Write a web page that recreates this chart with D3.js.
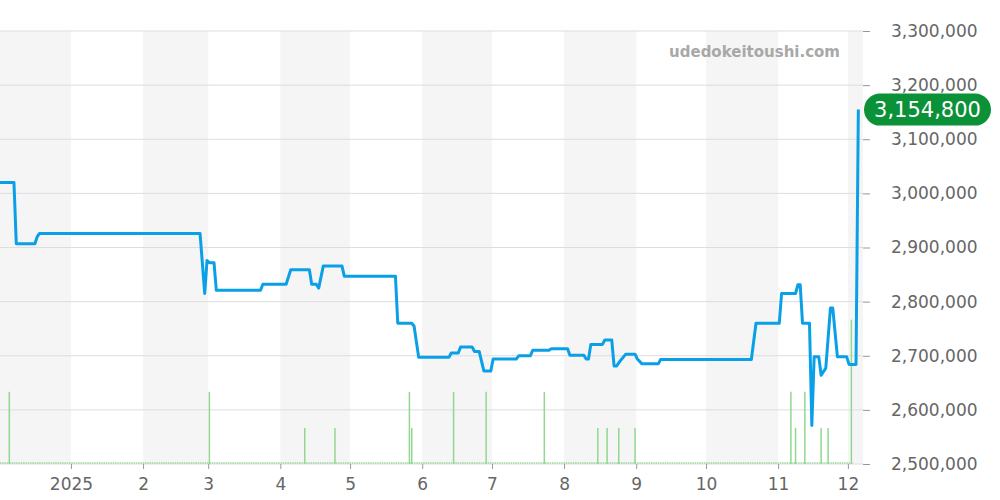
<!DOCTYPE html>
<html>
<head>
<meta charset="utf-8">
<script src="https://cdnjs.cloudflare.com/ajax/libs/d3/7.8.5/d3.min.js"></script>
<style>
  body { margin: 0; background: #fff; }
  svg { display: block; font-family: "DejaVu Sans", sans-serif; }
</style>
</head>
<body>
<div class="root"></div>
<script>
// price history (date, yen)
var priceDates = ["2024-12-01","2024-12-07","2024-12-08","2024-12-16","2024-12-17","2024-12-18",
  "2025-02-25","2025-02-27","2025-02-28","2025-03-01","2025-03-03","2025-03-04","2025-03-23","2025-03-24",
  "2025-04-03","2025-04-05","2025-04-13","2025-04-14","2025-04-16","2025-04-17","2025-04-19","2025-04-27",
  "2025-04-28","2025-05-20","2025-05-21","2025-05-27","2025-05-28","2025-05-30","2025-06-12","2025-06-13",
  "2025-06-16","2025-06-17","2025-06-22","2025-06-23","2025-06-25","2025-06-27","2025-06-30","2025-07-01",
  "2025-07-11","2025-07-12","2025-07-17","2025-07-18","2025-07-25","2025-07-26","2025-08-02","2025-08-03",
  "2025-08-09","2025-08-10","2025-08-11","2025-08-12","2025-08-17","2025-08-18","2025-08-21","2025-08-22",
  "2025-08-23","2025-08-24","2025-08-27","2025-08-31","2025-09-01","2025-09-03","2025-09-10","2025-09-11",
  "2025-10-20","2025-10-22","2025-11-01","2025-11-02","2025-11-08","2025-11-09","2025-11-10","2025-11-11",
  "2025-11-14","2025-11-15","2025-11-16","2025-11-18","2025-11-19","2025-11-21","2025-11-23","2025-11-24",
  "2025-11-26","2025-11-30","2025-12-01","2025-12-04","2025-12-05"];
var priceValues = [3020000,3020000,2907000,2907000,2920000,2926000,
  2926000,2815000,2876000,2872000,2872000,2821000,2821000,2832000,
  2832000,2859000,2859000,2832000,2832000,2825000,2866000,2866000,
  2847000,2847000,2760000,2760000,2755000,2697000,2697000,2705000,
  2705000,2716000,2716000,2708000,2708000,2672000,2672000,2694000,
  2694000,2700000,2700000,2710000,2710000,2713000,2713000,2701000,
  2701000,2694000,2694000,2721000,2721000,2729000,2729000,2681000,
  2681000,2687000,2703000,2703000,2694000,2685000,2685000,2693000,
  2693000,2760000,2760000,2815000,2815000,2831000,2831000,2760000,
  2760000,2571000,2698000,2698000,2664000,2677000,2788000,2788000,
  2698000,2698000,2684000,2684000,3154800];

// number of listings sold per day
var volumeDates = ["2024-12-05","2025-03-01","2025-04-11","2025-04-24","2025-05-26","2025-05-27",
  "2025-06-14","2025-06-28","2025-07-23","2025-08-15","2025-08-19","2025-08-24","2025-08-31",
  "2025-11-06","2025-11-08","2025-11-12","2025-11-19","2025-11-22","2025-12-02"];
var volumeValues = [2,2,1,1,2,1,2,2,2,1,1,1,1,2,1,2,1,1,4];

var yTicks = [2500000,2600000,2700000,2800000,2900000,3000000,3100000,3200000,3300000];
var monthLabels = ["2025","2","3","4","5","6","7","8","9","10","11","12"];
var currentPrice = 3154800;

var width = 1000, height = 500;
var plotLeft = 0, plotRight = 863, plotTop = 31, plotBottom = 464;
var parse = d3.timeParse("%Y-%m-%d");
var parseTime = d3.timeParse("%Y-%m-%d %H:%M");
// daily records are plotted at midday
var parseDay = function (s) { return parseTime(s + " 12:00"); };
var fmt = d3.format(",");

var svg = d3.select(".root").append("svg")
  .attr("width", width)
  .attr("height", height);

var x = d3.scaleTime()
  .domain([parseTime("2024-12-01 12:00"), parseTime("2025-12-07 12:00")])
  .range([plotLeft, plotRight]);
var y = d3.scaleLinear()
  .domain([2500000, 3300000])
  .range([plotBottom, plotTop]);
var yVol = d3.scaleLinear()
  .domain([0, 12])
  .range([plotBottom, plotTop]);

// alternating month bands
var months = d3.timeMonth.range(parse("2024-12-01"), parse("2025-12-07"));
svg.append("g")
  .selectAll("rect")
  .data(months.filter(function (d, i) { return i % 2 == 0; }))
  .enter().append("rect")
  .attr("x", function (d, i) { return i == 0 ? plotLeft : x(d); })
  .attr("y", plotTop)
  .attr("width", function (d, i) {
    return Math.min(x(d3.timeMonth.offset(d, 1)), plotRight) - (i == 0 ? plotLeft : x(d));
  })
  .attr("height", plotBottom - plotTop)
  .attr("fill", "#f5f5f5");

// horizontal grid
svg.append("g")
  .selectAll("line")
  .data(yTicks)
  .enter().append("line")
  .attr("x1", plotLeft)
  .attr("x2", plotRight)
  .attr("y1", function (d) { return y(d); })
  .attr("y2", function (d) { return y(d); })
  .attr("stroke", "#dddddd")
  .attr("stroke-width", 1);

// watermark
svg.append("text")
  .attr("x", 840)
  .attr("y", 57)
  .attr("text-anchor", "end")
  .attr("font-size", 15)
  .attr("font-weight", "bold")
  .attr("fill", "#a8a8a8")
  .text("udedokeitoushi.com");

// volume baseline + bars
svg.append("line")
  .attr("x1", plotLeft)
  .attr("x2", plotRight - 10)
  .attr("y1", plotBottom - 1)
  .attr("y2", plotBottom - 1)
  .attr("stroke", "#9bd99b")
  .attr("stroke-width", 1.5)
  .attr("stroke-dasharray", "1.5,0.8");

svg.append("g")
  .selectAll("line")
  .data(volumeDates.map(function (d, i) { return { date: parseDay(d), v: volumeValues[i] }; }))
  .enter().append("line")
  .attr("x1", function (d) { return x(d.date); })
  .attr("x2", function (d) { return x(d.date); })
  .attr("y1", plotBottom)
  .attr("y2", function (d) { return yVol(d.v); })
  .attr("stroke", "#90d890")
  .attr("stroke-width", 1.5);

// price line
var priceData = priceDates.map(function (d, i) { return { date: parseDay(d), p: priceValues[i] }; });
svg.append("path")
  .datum(priceData)
  .attr("fill", "none")
  .attr("stroke", "#0aa0e8")
  .attr("stroke-width", 3)
  .attr("stroke-linejoin", "round")
  .attr("d", d3.line()
    .x(function (d) { return x(d.date); })
    .y(function (d) { return y(d.p); }));

// right axis
var yAxis = svg.append("g")
  .attr("transform", "translate(" + plotRight + ",0)")
  .call(d3.axisRight(y).tickValues(yTicks).tickSize(7).tickPadding(21).tickFormat(fmt));
yAxis.select(".domain").remove();
yAxis.selectAll(".tick line").attr("stroke", "#999");
yAxis.selectAll(".tick text")
  .attr("fill", "#666")
  .attr("font-size", 17)
  .attr("font-family", "DejaVu Sans, sans-serif");

// bottom axis
var monthTicks = d3.timeMonth.range(parse("2025-01-01"), parse("2025-12-07"));
var xAxis = svg.append("g")
  .attr("transform", "translate(0," + plotBottom + ")")
  .call(d3.axisBottom(x).tickValues(monthTicks).tickSize(5).tickPadding(9)
    .tickFormat(function (d, i) { return monthLabels[i]; }));
xAxis.select(".domain").remove();
xAxis.selectAll(".tick line").attr("stroke", "#999");
xAxis.selectAll(".tick text")
  .attr("fill", "#666")
  .attr("font-size", 17)
  .attr("font-family", "DejaVu Sans, sans-serif");

// current price badge
var badge = svg.append("g")
  .attr("transform", "translate(" + (plotRight + 1) + "," + y(currentPrice) + ")");
badge.append("rect")
  .attr("x", 0)
  .attr("y", -16)
  .attr("width", 127)
  .attr("height", 32)
  .attr("rx", 16)
  .attr("fill", "#0b9138");
badge.append("text")
  .attr("x", 63.5)
  .attr("y", 7.5)
  .attr("text-anchor", "middle")
  .attr("font-size", 21)
  .attr("fill", "#fff")
  .text(fmt(currentPrice));
</script>
</body>
</html>
